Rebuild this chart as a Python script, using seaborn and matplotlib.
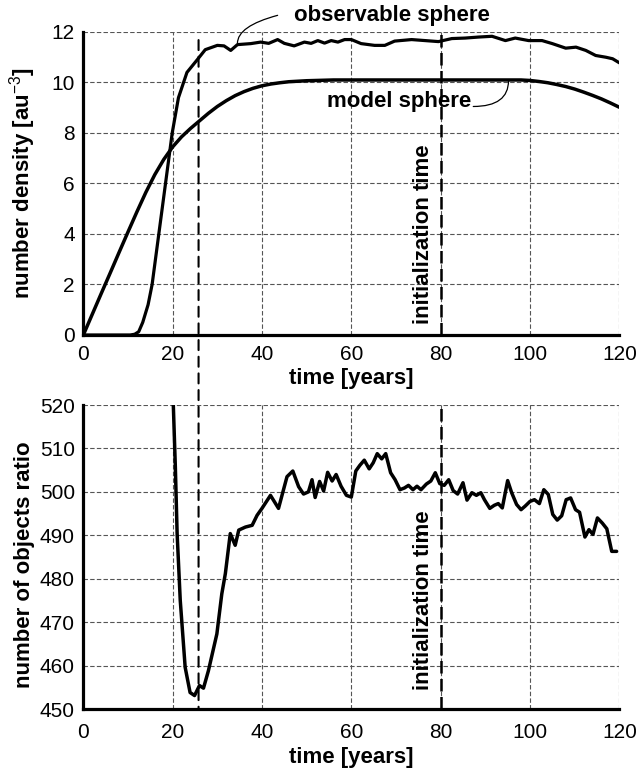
import matplotlib
matplotlib.use("Agg")
import matplotlib.pyplot as plt
from matplotlib.patches import ConnectionPatch
import pandas as pd
import seaborn as sns

# ---- number density of the two spheres (upper panel) ----
model_years = list(range(0, 121, 2))
model_density = [
    0.0, 0.82, 1.64, 2.45, 3.27, 4.08, 4.88, 5.65, 6.35, 6.95,
    7.45, 7.85, 8.18, 8.48, 8.78, 9.05, 9.28, 9.48, 9.64, 9.77,
    9.87, 9.94, 9.99, 10.03, 10.05, 10.07, 10.08, 10.09,
    10.1, 10.1, 10.1, 10.1, 10.1, 10.1, 10.1, 10.1, 10.1, 10.1, 10.1,
    10.1, 10.1, 10.1, 10.1, 10.1, 10.1, 10.1, 10.1, 10.1, 10.1, 10.1,
    10.08, 10.04, 9.99, 9.92, 9.84, 9.74, 9.62, 9.49, 9.35, 9.19, 9.02,
]

obs_years = [
    0, 5, 10, 10.5, 11.5, 12.4, 13.3, 14.5, 15.4, 16.9, 18.4, 19.9,
    21.3, 23.2, 25.5, 27.3, 30.0, 31.5, 33.0, 34.5, 37.5, 39.7, 41.5,
    43.5, 45.0, 47.2, 49.5, 51.0, 52.5, 54.0, 55.5, 57.0, 58.5, 60.0,
    62.2, 65.2, 67.5, 69.7, 73.5, 76.5, 79.5, 82.5, 85.5, 88.5, 91.5,
    94.5, 96.7, 99.7, 102.7, 105.0, 108.0, 110.3, 112.5, 114.7, 117.0,
    118.5, 120.0,
]
obs_density = [
    0.0, 0.0, 0.0, 0.0, 0.03, 0.13, 0.5, 1.2, 2.0, 4.0, 6.0, 8.0,
    9.4, 10.4, 10.9, 11.3, 11.47, 11.45, 11.27, 11.5, 11.54, 11.6, 11.55,
    11.7, 11.55, 11.45, 11.6, 11.55, 11.66, 11.56, 11.66, 11.6, 11.7, 11.7,
    11.54, 11.47, 11.47, 11.64, 11.7, 11.66, 11.62, 11.74, 11.76, 11.8, 11.83,
    11.66, 11.76, 11.66, 11.66, 11.54, 11.36, 11.4, 11.27, 11.07, 11.0,
    10.94, 10.78,
]

# ---- number of objects ratio (lower panel) ----
ratio_years = [
    20.1, 20.6, 21.0, 21.7, 22.8, 23.9, 24.9, 26.0, 26.9, 28.0,
    29.9, 31.0, 31.8, 32.9, 34.0, 34.8, 36.3, 37.8, 38.9, 40.0,
    41.9, 43.7, 45.6, 46.9, 48.2, 49.3, 50.4, 51.2, 51.9, 52.9,
    53.8, 54.7, 55.7, 56.6, 57.7, 58.9, 60.0, 61.0, 61.9, 62.9,
    64.0, 64.9, 65.8, 66.8, 67.7, 68.8, 69.8, 70.9, 71.9, 72.8,
    73.8, 74.7, 75.6, 76.8, 77.8, 78.8, 79.8, 80.8, 81.8, 82.8,
    83.8, 85.0, 85.9, 87.0, 88.0, 89.0, 89.8, 91.0, 92.0, 92.9,
    93.8, 95.0, 95.9, 97.0, 98.0, 98.9, 100.0, 101.0, 102.1, 103.1,
    104.1, 105.1, 106.1, 107.1, 108.1, 109.1, 110.2, 111.1, 112.3, 113.2,
    114.1, 115.1, 116.2, 117.2, 118.3, 119.4,
]
ratio_values = [
    521.5, 505.8, 490.4, 475.0, 459.6, 453.8, 453.1, 455.4, 454.8, 458.8,
    467.3, 476.5, 481.2, 490.4, 487.7, 491.2, 491.9, 492.3, 494.6, 496.2,
    499.2, 496.2, 503.5, 504.8, 501.2, 499.5, 500.0, 502.8, 498.7, 502.4,
    500.2, 504.5, 502.5, 504.0, 501.3, 499.2, 498.8, 504.8, 506.1, 507.3,
    505.3, 506.7, 508.8, 507.6, 508.8, 504.4, 502.8, 500.5, 500.9, 501.5,
    500.5, 501.3, 500.5, 501.8, 502.5, 504.4, 501.9, 501.5, 502.8, 500.3,
    499.5, 502.1, 498.1, 499.8, 499.2, 499.8, 498.2, 496.2, 496.9, 497.3,
    496.3, 502.6, 499.8, 497.1, 495.9, 496.7, 497.8, 498.2, 497.3, 500.5,
    499.4, 494.8, 493.5, 494.5, 498.2, 498.6, 495.9, 495.3, 489.6, 491.3,
    490.2, 494.0, 492.8, 491.5, 486.3, 486.3,
]

x_ticks = [0, 20, 40, 60, 80, 100, 120]
density_ticks = [0, 2, 4, 6, 8, 10, 12]
ratio_ticks = [450, 460, 470, 480, 490, 500, 510, 520]

sphere_time = 25.8      # time the observable sphere fills up
init_time = 80          # initialization time

sns.set_theme(style="white")
plt.rcParams["font.family"] = ["Liberation Sans", "DejaVu Sans"]
plt.rcParams["text.color"] = "black"
plt.rcParams["axes.labelcolor"] = "black"
plt.rcParams["xtick.color"] = "black"
plt.rcParams["ytick.color"] = "black"
plt.rcParams["mathtext.fontset"] = "custom"
plt.rcParams["mathtext.rm"] = "Liberation Sans"
plt.rcParams["mathtext.it"] = "Liberation Sans:italic"
plt.rcParams["mathtext.bf"] = "Liberation Sans:bold"

fig = plt.figure(figsize=(6.39, 7.71), dpi=100)
ax_top = fig.add_axes([0.1304, 0.5655, 0.8388, 0.393])
ax_bot = fig.add_axes([0.1304, 0.0804, 0.8388, 0.3943])

model_df = pd.DataFrame({"t": model_years, "n": model_density})
obs_df = pd.DataFrame({"t": obs_years, "n": obs_density})
ratio_df = pd.DataFrame({"t": ratio_years, "r": ratio_values})

sns.lineplot(data=model_df, x="t", y="n", ax=ax_top, color="black",
             lw=2.5, estimator=None, sort=False)
sns.lineplot(data=obs_df, x="t", y="n", ax=ax_top, color="black",
             lw=2.3, estimator=None, sort=False)
sns.lineplot(data=ratio_df, x="t", y="r", ax=ax_bot, color="black",
             lw=2.5, estimator=None, sort=False)

grid_kw = dict(color="#555555", lw=0.8, ls=(0, (4, 2)))
for ax, yt in ((ax_top, density_ticks), (ax_bot, ratio_ticks)):
    ax.set_xlim(0, 120)
    ax.set_ylim(yt[0], yt[-1])
    ax.set_xticks(x_ticks)
    ax.set_yticks(yt)
    ax.grid(True, **grid_kw)
    ax.set_axisbelow(True)
    for side in ("top", "right"):
        ax.spines[side].set_visible(False)
    for side in ("left", "bottom"):
        ax.spines[side].set_color("black")
        ax.spines[side].set_linewidth(2.3)
        ax.spines[side].set_zorder(5)
    ax.tick_params(axis="both", length=0, labelsize=15, colors="black")
    ax.tick_params(axis="y", pad=6)
    ax.set_xlabel("time [years]", fontsize=16, fontweight="bold",
                  color="black")
    ax.xaxis.label.set_va("center")
    ax.yaxis.label.set_va("center")
    ax.axvline(init_time, color="black", lw=1.8, ls=(0, (5, 2.2)), zorder=4)

ax_top.tick_params(axis="x", pad=7)
ax_bot.tick_params(axis="x", pad=10)

ax_top.set_ylabel(r"number density [au$^{-3}$]", fontsize=16,
                  fontweight="bold", color="black")
ax_bot.set_ylabel("number of objects ratio", fontsize=16,
                  fontweight="bold", color="black")
ax_top.xaxis.set_label_coords(0.5, -0.142)
ax_bot.xaxis.set_label_coords(0.5, -0.160)
ax_top.yaxis.set_label_coords(-0.113, 0.5)
ax_bot.yaxis.set_label_coords(-0.109, 0.474)

# vertical "initialization time" labels
ax_top.text(78.6, 4.0, "initialization time", rotation=90, ha="right",
            va="center", fontsize=16, fontweight="bold")
ax_bot.text(78.6, 475.0, "initialization time", rotation=90, ha="right",
            va="center", fontsize=16, fontweight="bold")

# dashed marker running through both panels
link = ConnectionPatch(xyA=(sphere_time, 11.68), coordsA=ax_top.transData,
                       xyB=(sphere_time, 450), coordsB=ax_bot.transData,
                       color="black", lw=1.5, ls=(0, (4.8, 3.2)), zorder=6)
fig.add_artist(link)

# curve labels with leader lines
ax_top.text(47.1, 12.66, "observable sphere", ha="left", va="center",
            fontsize=16, fontweight="bold")
ax_top.annotate("", xy=(34.5, 11.55), xytext=(43.5, 12.66),
                annotation_clip=False,
                arrowprops=dict(arrowstyle="-", color="black", lw=0.9,
                                shrinkA=0, shrinkB=0,
                                connectionstyle="angle3,angleA=195,angleB=90"))
ax_top.text(86.9, 9.25, "model sphere", ha="right", va="center",
            fontsize=16, fontweight="bold")
ax_top.annotate("", xy=(95.2, 10.08), xytext=(87.3, 9.05),
                annotation_clip=False,
                arrowprops=dict(arrowstyle="-", color="black", lw=0.9,
                                shrinkA=0, shrinkB=0,
                                connectionstyle="angle3,angleA=0,angleB=90"))

fig.savefig("out.png", dpi=100, facecolor="white")
